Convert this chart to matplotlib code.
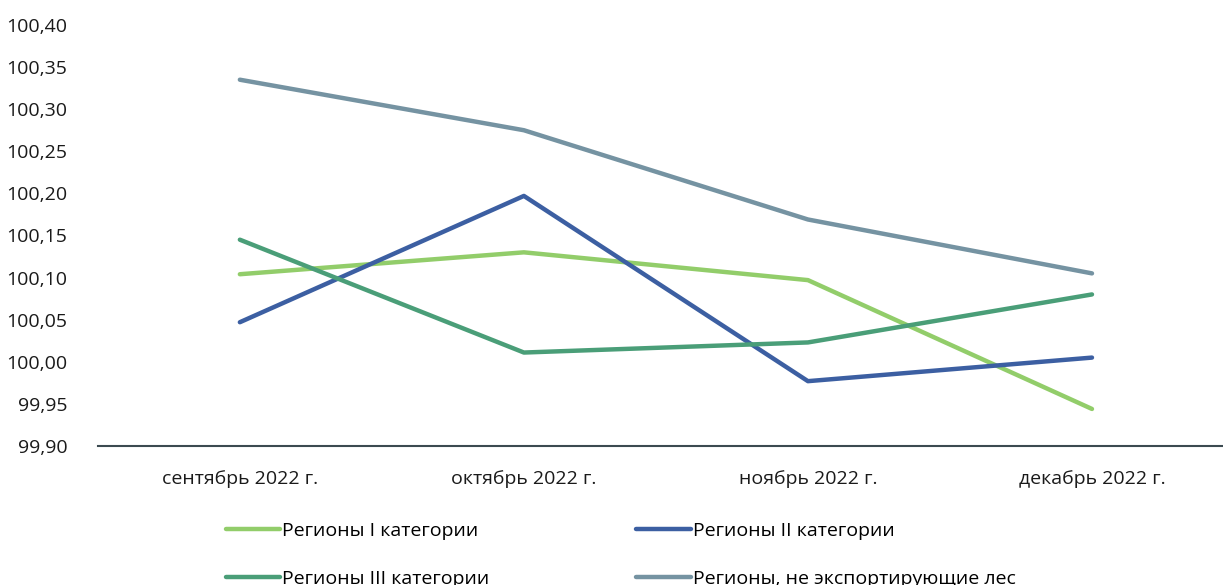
import matplotlib
matplotlib.use("Agg")
import matplotlib.pyplot as plt
from matplotlib.ticker import FuncFormatter

months = ["сентябрь 2022 г.", "октябрь 2022 г.", "ноябрь 2022 г.", "декабрь 2022 г."]

cat1 = [100.104, 100.130, 100.097, 99.944]
cat2 = [100.047, 100.197, 99.977, 100.005]
cat3 = [100.145, 100.011, 100.023, 100.080]
non_export = [100.335, 100.275, 100.169, 100.105]

series_names = [
    "Регионы I категории",
    "Регионы II категории",
    "Регионы III категории",
    "Регионы, не экспортирующие лес",
]
colors = ["#92cd6a", "#3c5fa2", "#4a9e78", "#7593a2"]

plt.rcParams["font.family"] = ["Open Sans", "DejaVu Sans"]


def main():
    fig = plt.figure(figsize=(12.23, 5.85), dpi=100)
    ax = fig.add_axes([0.080, 0.2376, 0.929, 0.7197])

    x = range(len(months))
    lines = []
    for vals, name, col in zip([cat1, cat2, cat3, non_export], series_names, colors):
        (ln,) = ax.plot(x, vals, color=col, lw=3.2, label=name, solid_capstyle="round")
        lines.append(ln)

    ax.set_xlim(-0.5, 3.5)
    ax.set_ylim(99.90, 100.40)
    ax.set_yticks([99.90 + 0.05 * i for i in range(11)])
    ax.yaxis.set_major_formatter(FuncFormatter(lambda v, p: f"{v:.2f}".replace(".", ",")))
    ax.set_xticks(list(x))
    ax.set_xticklabels(months)
    ax.tick_params(axis="both", length=0, labelsize=14, colors="#1a1a1a")
    ax.tick_params(axis="x", pad=17)
    ax.tick_params(axis="y", pad=22)

    for side in ["top", "right", "left"]:
        ax.spines[side].set_visible(False)
    ax.spines["bottom"].set_color("#3b4a50")
    ax.spines["bottom"].set_linewidth(1.5)

    # legend rows: I / II, then III / non-exporting
    order = [0, 2, 1, 3]
    fig.legend(
        [lines[i] for i in order],
        [series_names[i] for i in order],
        loc="upper left",
        bbox_to_anchor=(0.1705, 0.138),
        ncol=2,
        frameon=False,
        fontsize=14,
        handlelength=2.8,
        handletextpad=0.1,
        columnspacing=7.55,
        labelspacing=1.55,
    )

    fig.savefig("out.png", dpi=100)


if __name__ == "__main__":
    main()
